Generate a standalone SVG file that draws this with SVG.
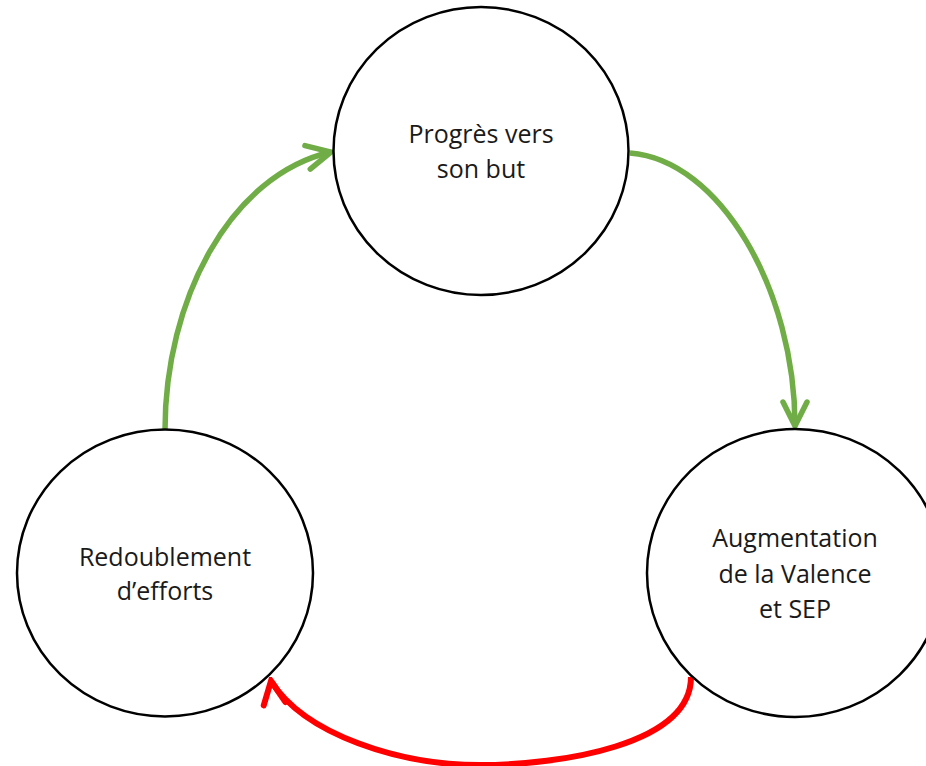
<svg xmlns="http://www.w3.org/2000/svg" width="926" height="766" viewBox="0 0 926 766">
<style>
.node{fill:#fff;stroke:#000;stroke-width:2.5}
.lbl{font-family:"Open Sans","Noto Sans","Liberation Sans",sans-serif;font-size:25px;fill:#1a1a1a;text-anchor:middle}
.g{fill:none;stroke:#70AD47;stroke-width:5.5}
.r{fill:none;stroke:#FF0000;stroke-width:6}
</style>
<defs>
<marker id="ag" markerUnits="userSpaceOnUse" viewBox="-30 -16 34 32" markerWidth="34" markerHeight="32" refX="0" refY="0" orient="auto">
<path d="M-24,-12 L0,0 L-24,12" fill="none" stroke="#70AD47" stroke-width="5.5" stroke-linecap="round" stroke-linejoin="miter"/>
</marker>
<marker id="ar" markerUnits="userSpaceOnUse" viewBox="-30 -16 34 32" markerWidth="34" markerHeight="32" refX="0" refY="0" orient="-99">
<path d="M-23,-11 L0,0 L-23,11" fill="none" stroke="#FF0000" stroke-width="6" stroke-linecap="round" stroke-linejoin="miter"/>
</marker>
</defs>
<rect width="926" height="766" fill="#fff"/>
<g id="connectors">
<path class="g" d="M165,430 C165,300 230,175 331,152" marker-end="url(#ag)"/>
<path class="g" d="M630,153 C720,160 795,290 795,426" marker-end="url(#ag)"/>
<path class="r" d="M691,677 C691,745 560,765 480,765 C400,765 305,735 271,681" marker-end="url(#ar)"/>
</g>
<g id="node-progres">
<ellipse class="node" cx="481" cy="151" rx="147.5" ry="144"/>
<text class="lbl" x="481" y="143">Progrès vers</text>
<text class="lbl" x="481" y="178">son but</text>
</g>
<g id="node-redoublement">
<ellipse class="node" cx="165" cy="573" rx="148" ry="143.5"/>
<text class="lbl" x="165" y="566">Redoublement</text>
<text class="lbl" x="165" y="600">d’efforts</text>
</g>
<g id="node-augmentation">
<ellipse class="node" cx="795" cy="573" rx="148" ry="144"/>
<text class="lbl" x="795" y="547">Augmentation</text>
<text class="lbl" x="795" y="583">de la Valence</text>
<text class="lbl" x="795" y="618">et SEP</text>
</g>
</svg>
